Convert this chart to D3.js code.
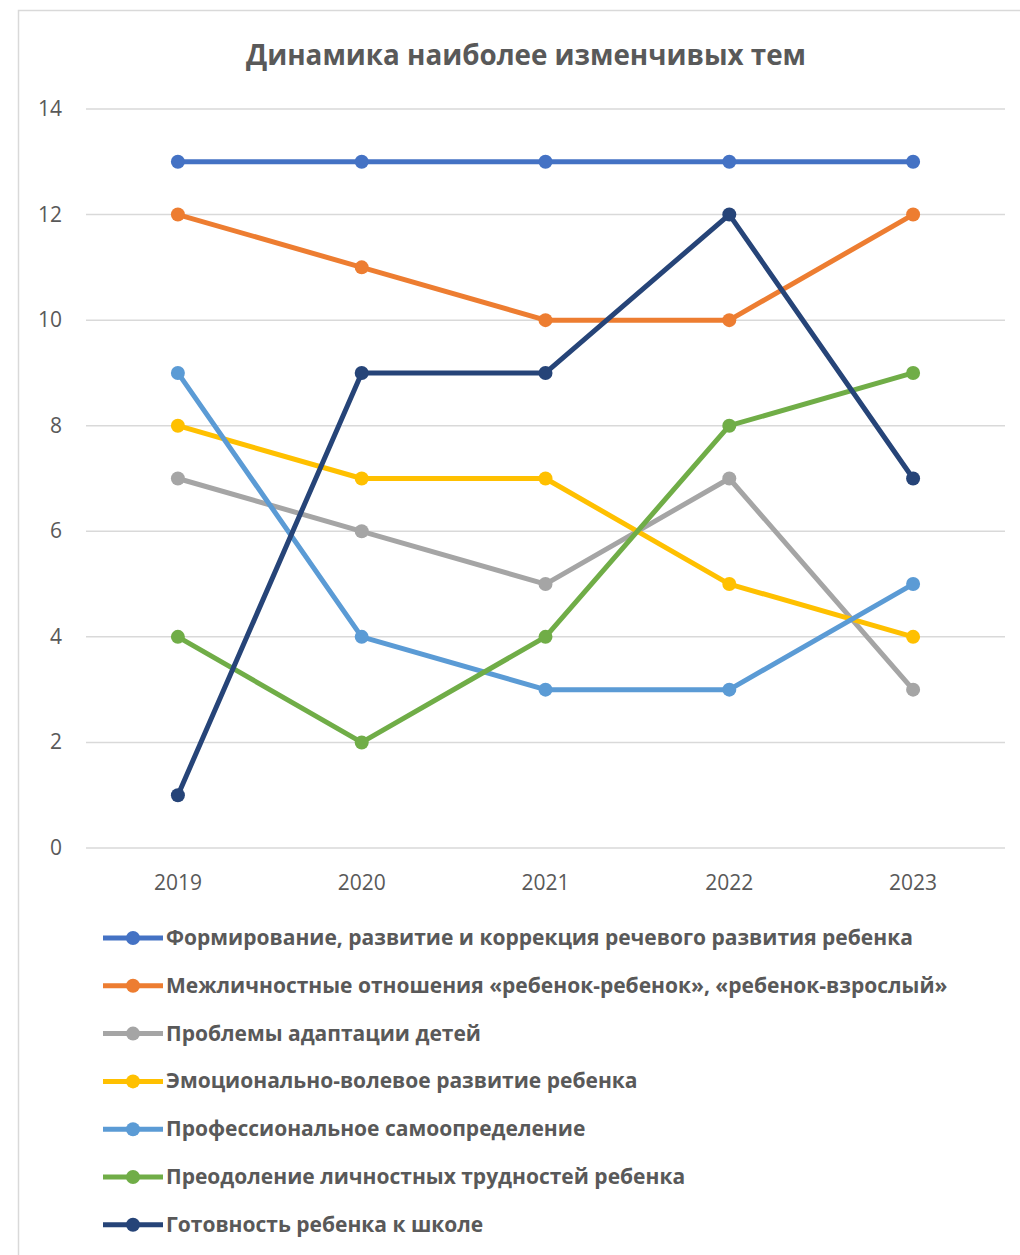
<!DOCTYPE html>
<html>
<head>
<meta charset="utf-8">
<script src="https://cdn.jsdelivr.net/npm/d3@7"></script>
<style>
  body { margin: 0; background: #fff; }
  text { font-family: "Liberation Sans Narrow", "Open Sans", sans-serif; }
</style>
</head>
<body>
<svg width="1020" height="1255"></svg>
<script>
// data
const years = ["2019", "2020", "2021", "2022", "2023"];
const seriesNames = [
  "Формирование, развитие и коррекция речевого развития ребенка",
  "Межличностные отношения «ребенок-ребенок», «ребенок-взрослый»",
  "Проблемы адаптации детей",
  "Эмоционально-волевое развитие ребенка",
  "Профессиональное самоопределение",
  "Преодоление личностных трудностей ребенка",
  "Готовность ребенка к школе"
];
const speech = [13, 13, 13, 13, 13];
const relations = [12, 11, 10, 10, 12];
const adaptation = [7, 6, 5, 7, 3];
const emotional = [8, 7, 7, 5, 4];
const career = [9, 4, 3, 3, 5];
const difficulties = [4, 2, 4, 8, 9];
const schoolReady = [1, 9, 9, 12, 7];
const yTicks = [0, 2, 4, 6, 8, 10, 12, 14];
const colors = ["#4472c4", "#ed7d31", "#a5a5a5", "#ffc000", "#5b9bd5", "#70ad47", "#264478"];

const allSeries = [speech, relations, adaptation, emotional, career, difficulties, schoolReady]
  .map((vals, i) => ({ name: seriesNames[i], values: vals, color: colors[i] }));

const svg = d3.select("svg");

// chart frame
svg.append("rect")
    .attr("x", 18.5).attr("y", 10.5)
    .attr("width", 1010).attr("height", 1260)
    .attr("fill", "none")
    .attr("stroke", "#d9d9d9")
    .attr("stroke-width", 1.5);

// title
svg.append("text")
    .attr("x", 526).attr("y", 65)
    .attr("text-anchor", "middle")
    .attr("font-size", 29)
    .attr("font-weight", "bold")
    .attr("fill", "#595959")
    .attr("textLength", 560)
    .attr("lengthAdjust", "spacingAndGlyphs")
    .text("Динамика наиболее изменчивых тем");

const x = d3.scalePoint()
    .domain(years)
    .range([86, 1005])
    .padding(0.5);

const y = d3.scaleLinear()
    .domain([0, 14])
    .range([848, 109]);

// grid lines
svg.append("g")
  .selectAll("line")
  .data(yTicks)
  .join("line")
    .attr("x1", 86).attr("x2", 1005)
    .attr("y1", d => y(d)).attr("y2", d => y(d))
    .attr("stroke", "#d9d9d9")
    .attr("stroke-width", 1.5);

// y axis labels
svg.append("g")
  .selectAll("text")
  .data(yTicks)
  .join("text")
    .attr("x", 62)
    .attr("y", d => y(d) + 7)
    .attr("text-anchor", "end")
    .attr("font-size", 21)
    .attr("fill", "#595959")
    .text(d => d);

// x axis labels
svg.append("g")
  .selectAll("text")
  .data(years)
  .join("text")
    .attr("x", d => x(d))
    .attr("y", 890)
    .attr("text-anchor", "middle")
    .attr("font-size", 21)
    .attr("fill", "#595959")
    .text(d => d);

const line = d3.line()
    .x((d, i) => x(years[i]))
    .y(d => y(d));

const g = svg.append("g");
allSeries.forEach(s => {
  g.append("path")
      .attr("d", line(s.values))
      .attr("fill", "none")
      .attr("stroke", s.color)
      .attr("stroke-width", 5)
      .attr("stroke-linejoin", "round");
  g.selectAll(null)
    .data(s.values)
    .join("circle")
      .attr("cx", (d, i) => x(years[i]))
      .attr("cy", d => y(d))
      .attr("r", 7)
      .attr("fill", s.color);
});

// legend
const legend = svg.append("g")
  .selectAll("g")
  .data(allSeries)
  .join("g")
    .attr("transform", (d, i) => `translate(103, ${938 + i * 47.8})`);

legend.append("line")
    .attr("x1", 0).attr("x2", 60)
    .attr("stroke", d => d.color)
    .attr("stroke-width", 5);
legend.append("circle")
    .attr("cx", 30)
    .attr("r", 7)
    .attr("fill", d => d.color);
legend.append("text")
    .attr("x", 63)
    .attr("y", 7)
    .attr("font-size", 21)
    .attr("font-weight", "bold")
    .attr("fill", "#595959")
    .text(d => d.name);
</script>
</body>
</html>
